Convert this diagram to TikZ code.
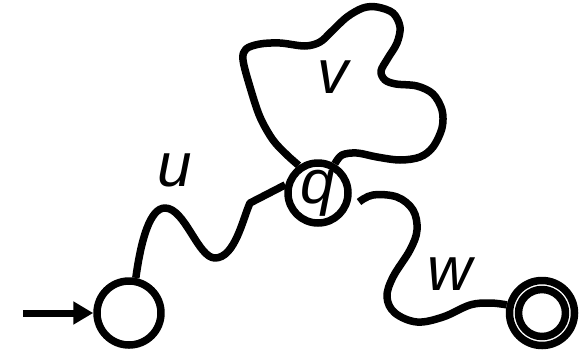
\documentclass[tikz,border=0pt]{standalone}
\usepackage{fontspec}
\setmainfont{Liberation Sans}
\usetikzlibrary{arrows.meta}
\begin{document}
\begin{tikzpicture}[x=1pt,y=-1pt,line width=7.5pt,line join=round,
  state/.style={circle,draw,minimum size=64pt,inner sep=0pt},
  lab/.style={font=\fontsize{62}{70}\selectfont\itshape,inner sep=0pt}]
\useasboundingbox (0,0) rectangle (585,351);
% states
\node[state] (s) at (129,313) {};
\node[state,minimum size=60pt,lab] (q) at (318,193) {q};
\node[state,minimum size=65pt] (f) at (542,313) {};
\node[state,minimum size=47pt] (fi) at (542,313) {};
% initial arrow
\coordinate (in) at (23,313);
\draw[line width=7pt,-{Triangle[length=20pt,width=22pt]}] (in) -- (s);
% u path
\draw (s.79) .. controls (141,240) and (150,208) .. (165,208)
  .. controls (185,208) and (198,258) .. (215,258)
  .. controls (235,258) and (243,218) .. (250,203) -- (q.166);
% v loop
\draw plot[smooth,tension=0.55] coordinates {(q.125) (287,155) (273,140) (260,117)
  (250,87) (243,60) (246,49) (260,44) (280,43) (305,46) (320,42) (331,32) (347,17)
  (363,8) (377,7) (393,13) (400,27) (397,43) (388,58) (381,71) (385,80) (396,84)
  (417,86) (433,94) (442,110) (442,128) (433,147) (420,157) (400,160) (377,157)
  (357,153) (342,155) (q.60)};
% w path
\coordinate (w0) at (359,202);
\draw plot[smooth,tension=0.6] coordinates {(w0) (373,195) (397,197) (413,210)
  (417,230) (410,250) (393,277) (387,297) (395,313) (417,322) (443,317) (470,305)
  (490,303) (f.167)};
% labels
\node[lab] (lu) at (175,170) {u};
\node[lab] (lv) at (333,77) {v};
\node[lab] (lw) at (450,274) {w};
\end{tikzpicture}
\end{document}
